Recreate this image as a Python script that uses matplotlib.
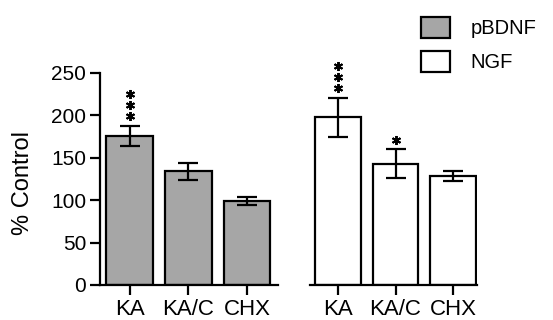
import matplotlib
matplotlib.use("Agg")
import matplotlib.pyplot as plt
import matplotlib.transforms as mtransforms
from matplotlib.patches import Patch
import numpy as np

plt.rcParams['font.family'] = ['Liberation Sans', 'DejaVu Sans']

# data
groups = ['KA', 'KA/C', 'CHX']
bdnf_mean = [176, 134, 99]
bdnf_err = [12, 10, 5]
bdnf_stars = [3, 0, 0]
ngf_mean = [198, 143, 129]
ngf_err = [23, 17, 6]
ngf_stars = [3, 1, 0]
yticks = [0, 50, 100, 150, 200, 250]

fig = plt.figure(figsize=(5.53, 3.2), dpi=100)
ax1 = fig.add_axes([100 / 553, 35 / 320, 178 / 553, 212 / 320])
ax2 = fig.add_axes([310 / 553, 35 / 320, 167 / 553, 212 / 320])

x = np.arange(len(groups))


def panel(ax, means, errs, stars, face):
    ax.bar(x, means, width=0.8, color=face, edgecolor='black', linewidth=1.6,
           zorder=2)
    ax.errorbar(x, means, yerr=errs, fmt='none', ecolor='black', elinewidth=1.6,
                capsize=7, capthick=1.6, zorder=3, clip_on=False)
    for xi, m, e, n in zip(x, means, errs, stars):
        for k in range(n):
            tr = mtransforms.offset_copy(ax.transData, fig=fig, x=0,
                                         y=7 + 8 * k, units='points')
            ax.plot(xi, m + e, marker=(6, 2, 0), ms=6.5, mew=1.4, color='black',
                    transform=tr, clip_on=False, zorder=4)
    ax.set_ylim(0, 250)
    ax.set_xticks(x)
    ax.set_xticklabels(groups, fontsize=16)
    ax.tick_params(axis='x', length=7, width=1.6, pad=3)
    for s in ['top', 'right']:
        ax.spines[s].set_visible(False)
    ax.spines['bottom'].set_linewidth(1.6)
    ax.spines['left'].set_linewidth(1.6)


panel(ax1, bdnf_mean, bdnf_err, bdnf_stars, '#a6a6a6')
panel(ax2, ngf_mean, ngf_err, ngf_stars, 'white')

ax1.set_xlim(-0.51, 2.53)
ax2.set_xlim(-0.49, 2.42)

ax1.set_yticks(yticks)
ax1.tick_params(axis='y', length=7, width=1.6, pad=3, labelsize=15)
ax1.set_ylabel('% Control', fontsize=17, va='center')
ax1.yaxis.set_label_coords(-0.43, 0.48)

ax2.spines['left'].set_visible(False)
ax2.set_yticks([])

handles = [Patch(facecolor='#a6a6a6', edgecolor='black', linewidth=1.6),
           Patch(facecolor='white', edgecolor='black', linewidth=1.6)]
fig.legend(handles, ['pBDNF', 'NGF'], loc='upper left',
           bbox_to_anchor=(421 / 553, 1 - 17 / 320), frameon=False,
           fontsize=14.5, handlelength=1.45, handleheight=1.25, labelspacing=0.6,
           handletextpad=1.0, borderpad=0, borderaxespad=0)

fig.savefig('out.png', dpi=100)
